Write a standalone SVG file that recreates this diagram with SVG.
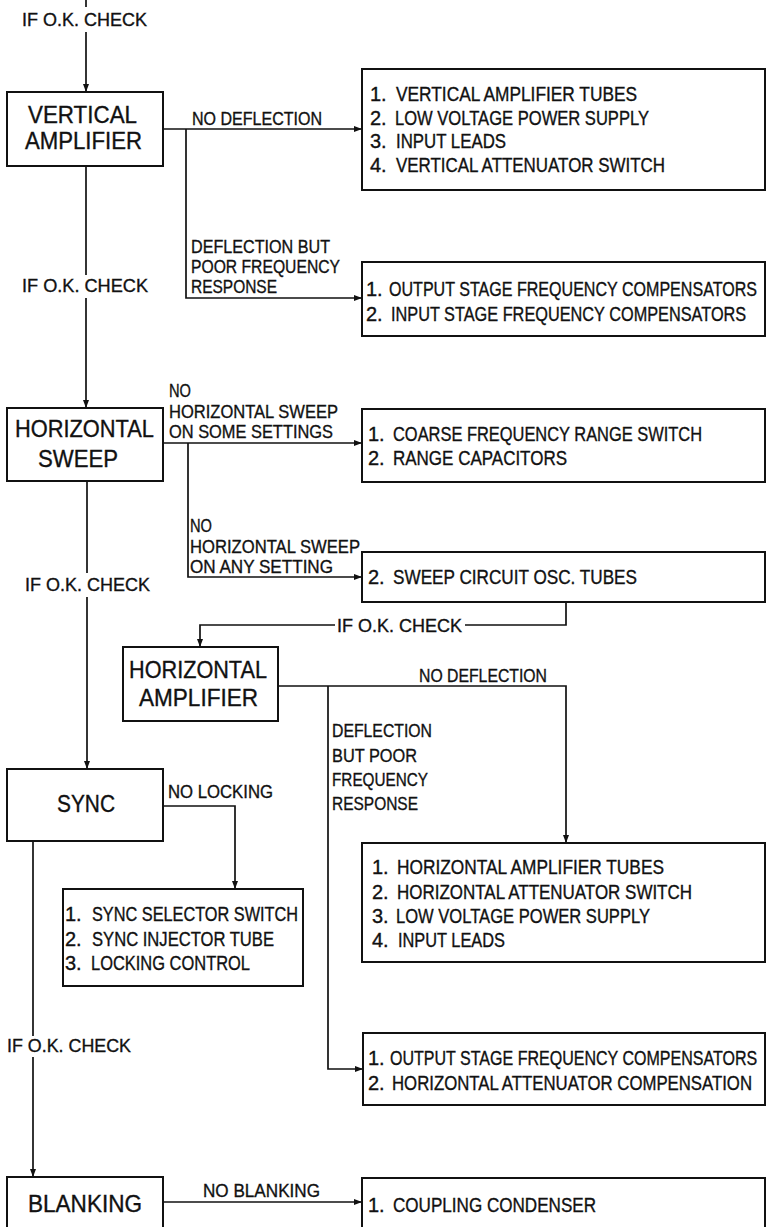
<svg xmlns="http://www.w3.org/2000/svg" width="767" height="1227" viewBox="0 0 767 1227">
<style>
.box{fill:#fff;stroke:#111;stroke-width:2}
.ln{fill:none;stroke:#111;stroke-width:1.7}
.ar{fill:none;stroke:#111;stroke-width:1.7;marker-end:url(#ah)}
text{font-family:"Liberation Sans",Arial,sans-serif;fill:#111;stroke:#111;stroke-width:0.35}
.t{font-size:24px}
.l{font-size:20px}
.c{font-size:19px}
</style>
<defs>
<marker id="ah" markerUnits="userSpaceOnUse" markerWidth="9" markerHeight="7" refX="8" refY="3" orient="auto">
<path d="M0,0 L8,3 L0,6 z" fill="#111"/>
</marker>
</defs>
<rect width="767" height="1227" fill="#fff"/>

<g id="connectors">
<line class="ln" x1="86" y1="0" x2="86" y2="7"/>
<line class="ar" x1="86" y1="32" x2="86" y2="92"/>
<text class="c" x="22" y="26" textLength="125" lengthAdjust="spacingAndGlyphs">IF O.K. CHECK</text>
<line class="ar" x1="163" y1="129" x2="362" y2="129"/>
<text class="c" x="192" y="125" textLength="130" lengthAdjust="spacingAndGlyphs">NO DEFLECTION</text>
<polyline class="ar" points="186,129 186,298 362,298"/>
<text class="c" x="191" y="253" textLength="139" lengthAdjust="spacingAndGlyphs">DEFLECTION BUT</text>
<text class="c" x="191" y="273" textLength="149" lengthAdjust="spacingAndGlyphs">POOR FREQUENCY</text>
<text class="c" x="191" y="293" textLength="86" lengthAdjust="spacingAndGlyphs">RESPONSE</text>
<line class="ln" x1="86" y1="166" x2="86" y2="275"/>
<text class="c" x="22" y="292" textLength="126" lengthAdjust="spacingAndGlyphs">IF O.K. CHECK</text>
<line class="ar" x1="86" y1="298" x2="86" y2="408"/>
<line class="ar" x1="163" y1="443" x2="362" y2="443"/>
<text class="c" x="169" y="397" textLength="22" lengthAdjust="spacingAndGlyphs">NO</text>
<text class="c" x="169" y="418" textLength="169" lengthAdjust="spacingAndGlyphs">HORIZONTAL SWEEP</text>
<text class="c" x="169" y="438" textLength="164" lengthAdjust="spacingAndGlyphs">ON SOME SETTINGS</text>
<polyline class="ar" points="188,443 188,577 362,577"/>
<text class="c" x="190" y="532" textLength="22" lengthAdjust="spacingAndGlyphs">NO</text>
<text class="c" x="190" y="553" textLength="170" lengthAdjust="spacingAndGlyphs">HORIZONTAL SWEEP</text>
<text class="c" x="190" y="573" textLength="143" lengthAdjust="spacingAndGlyphs">ON ANY SETTING</text>
<line class="ln" x1="87" y1="481" x2="87" y2="573"/>
<text class="c" x="25" y="591" textLength="125" lengthAdjust="spacingAndGlyphs">IF O.K. CHECK</text>
<line class="ar" x1="87" y1="597" x2="87" y2="769"/>
<polyline class="ln" points="566,602 566,625 465,625"/>
<polyline class="ar" points="335,625 200,625 200,647"/>
<text class="c" x="337" y="632" textLength="125" lengthAdjust="spacingAndGlyphs">IF O.K. CHECK</text>
<polyline class="ar" points="278,686 566,686 566,843"/>
<text class="c" x="419" y="682" textLength="128" lengthAdjust="spacingAndGlyphs">NO DEFLECTION</text>
<polyline class="ar" points="328,686 328,1069 363,1069"/>
<text class="c" x="332" y="737" textLength="100" lengthAdjust="spacingAndGlyphs">DEFLECTION</text>
<text class="c" x="332" y="762" textLength="85" lengthAdjust="spacingAndGlyphs">BUT POOR</text>
<text class="c" x="332" y="786" textLength="96" lengthAdjust="spacingAndGlyphs">FREQUENCY</text>
<text class="c" x="332" y="810" textLength="86" lengthAdjust="spacingAndGlyphs">RESPONSE</text>
<polyline class="ar" points="163,806 235,806 235,889"/>
<text class="c" x="168" y="798" textLength="105" lengthAdjust="spacingAndGlyphs">NO LOCKING</text>
<line class="ln" x1="33" y1="841" x2="33" y2="1036"/>
<text class="c" x="7" y="1052" textLength="124" lengthAdjust="spacingAndGlyphs">IF O.K. CHECK</text>
<line class="ar" x1="33" y1="1057" x2="33" y2="1177"/>
<line class="ar" x1="163" y1="1202" x2="362" y2="1202"/>
<text class="c" x="203" y="1197" textLength="117" lengthAdjust="spacingAndGlyphs">NO BLANKING</text>
</g>

<g id="vertical-amplifier">
<rect class="box" x="7" y="92" width="156" height="74"/>
<text class="t" x="28" y="123" textLength="109" lengthAdjust="spacingAndGlyphs">VERTICAL</text>
<text class="t" x="25" y="149" textLength="117" lengthAdjust="spacingAndGlyphs">AMPLIFIER</text>
</g>

<g id="va-no-deflection-list">
<rect class="box" x="362" y="69" width="403" height="121"/>
<text class="l" x="370" y="101">1.</text>
<text class="l" x="396" y="101" textLength="241" lengthAdjust="spacingAndGlyphs">VERTICAL AMPLIFIER TUBES</text>
<text class="l" x="370" y="125">2.</text>
<text class="l" x="395" y="125" textLength="254" lengthAdjust="spacingAndGlyphs">LOW VOLTAGE POWER SUPPLY</text>
<text class="l" x="370" y="148">3.</text>
<text class="l" x="396" y="148" textLength="110" lengthAdjust="spacingAndGlyphs">INPUT LEADS</text>
<text class="l" x="370" y="172">4.</text>
<text class="l" x="396" y="172" textLength="269" lengthAdjust="spacingAndGlyphs">VERTICAL ATTENUATOR SWITCH</text>
</g>

<g id="va-poor-response-list">
<rect class="box" x="362" y="262" width="403" height="74"/>
<text class="l" x="366" y="296">1.</text>
<text class="l" transform="translate(389,296) scale(0.8,1)" x="0" y="0" textLength="460" lengthAdjust="spacingAndGlyphs">OUTPUT STAGE FREQUENCY COMPENSATORS</text>
<text class="l" x="366" y="321">2.</text>
<text class="l" transform="translate(391,321) scale(0.8,1)" x="0" y="0" textLength="444" lengthAdjust="spacingAndGlyphs">INPUT STAGE FREQUENCY COMPENSATORS</text>
</g>

<g id="horizontal-sweep">
<rect class="box" x="7" y="408" width="156" height="73"/>
<text class="t" x="15" y="437" textLength="139" lengthAdjust="spacingAndGlyphs">HORIZONTAL</text>
<text class="t" x="38" y="467" textLength="80" lengthAdjust="spacingAndGlyphs">SWEEP</text>
</g>

<g id="hs-some-settings-list">
<rect class="box" x="362" y="409" width="403" height="73"/>
<text class="l" x="368" y="441">1.</text>
<text class="l" x="393" y="441" textLength="309" lengthAdjust="spacingAndGlyphs">COARSE FREQUENCY RANGE SWITCH</text>
<text class="l" x="368" y="465">2.</text>
<text class="l" x="393" y="465" textLength="174" lengthAdjust="spacingAndGlyphs">RANGE CAPACITORS</text>
</g>

<g id="hs-any-setting-list">
<rect class="box" x="362" y="552" width="403" height="50"/>
<text class="l" x="368" y="584">2.</text>
<text class="l" x="393" y="584" textLength="244" lengthAdjust="spacingAndGlyphs">SWEEP CIRCUIT OSC. TUBES</text>
</g>

<g id="horizontal-amplifier">
<rect class="box" x="123" y="647" width="155" height="74"/>
<text class="t" x="129" y="678" textLength="138" lengthAdjust="spacingAndGlyphs">HORIZONTAL</text>
<text class="t" x="139" y="706" textLength="119" lengthAdjust="spacingAndGlyphs">AMPLIFIER</text>
</g>

<g id="sync">
<rect class="box" x="7" y="769" width="156" height="72"/>
<text class="t" x="57" y="812" textLength="58" lengthAdjust="spacingAndGlyphs">SYNC</text>
</g>

<g id="sync-list">
<rect class="box" x="63" y="889" width="240" height="97"/>
<text class="l" x="65" y="921">1.</text>
<text class="l" x="92" y="921" textLength="206" lengthAdjust="spacingAndGlyphs">SYNC SELECTOR SWITCH</text>
<text class="l" x="65" y="946">2.</text>
<text class="l" x="92" y="946" textLength="182" lengthAdjust="spacingAndGlyphs">SYNC INJECTOR TUBE</text>
<text class="l" x="65" y="970">3.</text>
<text class="l" x="91" y="970" textLength="159" lengthAdjust="spacingAndGlyphs">LOCKING CONTROL</text>
</g>

<g id="ha-no-deflection-list">
<rect class="box" x="362" y="843" width="403" height="119"/>
<text class="l" x="372" y="874">1.</text>
<text class="l" x="397" y="874" textLength="267" lengthAdjust="spacingAndGlyphs">HORIZONTAL AMPLIFIER TUBES</text>
<text class="l" x="372" y="899">2.</text>
<text class="l" x="397" y="899" textLength="295" lengthAdjust="spacingAndGlyphs">HORIZONTAL ATTENUATOR SWITCH</text>
<text class="l" x="372" y="923">3.</text>
<text class="l" x="396" y="923" textLength="254" lengthAdjust="spacingAndGlyphs">LOW VOLTAGE POWER SUPPLY</text>
<text class="l" x="372" y="947">4.</text>
<text class="l" x="398" y="947" textLength="107" lengthAdjust="spacingAndGlyphs">INPUT LEADS</text>
</g>

<g id="ha-poor-response-list">
<rect class="box" x="363" y="1033" width="402" height="72"/>
<text class="l" x="368" y="1065">1.</text>
<text class="l" transform="translate(390,1065) scale(0.8,1)" x="0" y="0" textLength="459" lengthAdjust="spacingAndGlyphs">OUTPUT STAGE FREQUENCY COMPENSATORS</text>
<text class="l" x="368" y="1090">2.</text>
<text class="l" transform="translate(392,1090) scale(0.8,1)" x="0" y="0" textLength="450" lengthAdjust="spacingAndGlyphs">HORIZONTAL ATTENUATOR COMPENSATION</text>
</g>

<g id="blanking">
<rect class="box" x="7" y="1177" width="156" height="70"/>
<text class="t" x="28" y="1212" textLength="114" lengthAdjust="spacingAndGlyphs">BLANKING</text>
</g>

<g id="blanking-list">
<rect class="box" x="362" y="1178" width="403" height="70"/>
<text class="l" x="368" y="1212">1.</text>
<text class="l" x="393" y="1212" textLength="203" lengthAdjust="spacingAndGlyphs">COUPLING CONDENSER</text>
</g>
</svg>
